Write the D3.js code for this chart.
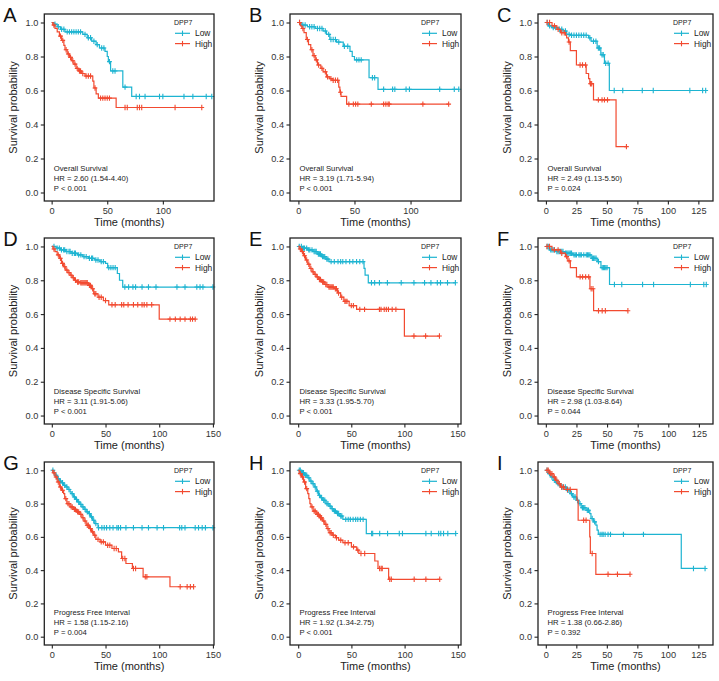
<!DOCTYPE html>
<html>
<head>
<meta charset="utf-8">
<script src="https://cdn.jsdelivr.net/npm/d3@7"></script>
<style>
body{margin:0;background:#fff;}
text{font-family:"Liberation Sans",Arial,sans-serif;}
</style>
</head>
<body>
<svg id="chart" width="719" height="681"></svg>
<script>
// groups + text for each panel
var groups = ["Low", "High"];
var colors = ["#1db4d1", "#f24a30"];
var letters = ["A","B","C","D","E","F","G","H","I"];
var endpoints = ["Overall Survival","Overall Survival","Overall Survival",
                 "Disease Specific Survival","Disease Specific Survival","Disease Specific Survival",
                 "Progress Free Interval","Progress Free Interval","Progress Free Interval"];
var hrLabels = ["HR = 2.60 (1.54-4.40)","HR = 3.19 (1.71-5.94)","HR = 2.49 (1.13-5.50)",
                "HR = 3.11 (1.91-5.06)","HR = 3.33 (1.95-5.70)","HR = 2.98 (1.03-8.64)",
                "HR = 1.58 (1.15-2.16)","HR = 1.92 (1.34-2.75)","HR = 1.38 (0.66-2.86)"];
var pLabels = ["P < 0.001","P < 0.001","P = 0.024","P < 0.001","P < 0.001","P = 0.044",
               "P = 0.004","P < 0.001","P = 0.392"];
var yTicks = [0, 0.2, 0.4, 0.6, 0.8, 1.0];
var ticks100 = [0, 50, 100];
var ticks125 = [0, 25, 50, 75, 100, 125];
var ticks150 = [0, 50, 100, 150];
var xTickSets = [ticks100, ticks100, ticks125, ticks150, ticks150, ticks125, ticks150, ticks150, ticks125];
var xMin = [-6.6, -7.5, -6.5, -7, -7.7, -6.4, -7, -7.7, -6.4];
var xMax = [146, 145, 137, 151, 153.3, 136.5, 151, 153, 137];

// step points [time, survival] and censor times
var lowA = [[2,0.99],[5,0.975],[8,0.96],[12,0.945],[28,0.93],[32,0.91],[36,0.89],[40,0.87],[43,0.85],[48,0.83],[50,0.80],[51,0.77],[53,0.715],[64,0.62],[72,0.565]];
var lowACens = [3,6,9,11,14,16,18,20,22,24,26,30,33,35,38,41,45,47,52,55,57,66,76,79,84,97,100,119,127,139,144];
var highA = [[1,0.985],[3,0.965],[5,0.945],[7,0.92],[9,0.895],[11,0.865],[12,0.84],[14,0.815],[16,0.795],[18,0.775],[20,0.755],[22,0.73],[24,0.715],[27,0.70],[30,0.685],[37,0.655],[38,0.615],[40,0.58],[42,0.555],[58,0.50]];
var highACens = [2,8,10,13,15,17,19,21,23,25,26,28,31,33,35,39,44,46,48,50,52,66,68,77,79,81,111,135];

var lowB = [[3,0.985],[8,0.975],[15,0.965],[22,0.95],[25,0.93],[28,0.90],[34,0.885],[40,0.86],[46,0.83],[48,0.80],[50,0.78],[63,0.675],[71,0.607]];
var lowBCens = [1,4,6,10,12,14,17,19,21,24,27,29,31,33,36,41,44,52,54,56,66,68,76,84,86,96,99,126,139,143];
var highB = [[2,0.98],[3,0.965],[5,0.94],[7,0.90],[9,0.87],[11,0.84],[13,0.805],[15,0.78],[17,0.75],[20,0.73],[22,0.71],[25,0.68],[28,0.67],[30,0.66],[36,0.62],[37,0.59],[38,0.565],[43,0.52]];
var highBCens = [1,4,8,12,14,16,18,21,24,26,29,31,33,35,37.5,45,49,51,53,65,76,78,80,81,111,134];

var lowC = [[2,0.98],[5,0.97],[10,0.96],[14,0.95],[17,0.93],[20,0.925],[35,0.91],[37,0.89],[42,0.85],[45,0.81],[48,0.76],[52,0.60]];
var lowCCens = [1,3,6,8,11,13,16,19,21,23,25,27,29,31,33,36,39,41,43,44,46,47,49,51,56,63,79,88,118,128.5,131];
var highC = [[5,0.98],[9,0.96],[12,0.94],[16,0.925],[17,0.91],[18.5,0.885],[20,0.835],[25,0.75],[33,0.70],[35,0.67],[36,0.64],[39,0.545],[57.5,0.27]];
var highCCens = [1,3,7,10,13,15,19,28,30,32.5,36.5,37.5,43,46,48,50.5,66];

var lowD = [[4,0.99],[8,0.98],[13,0.97],[18,0.96],[24,0.95],[29,0.94],[34,0.93],[40,0.92],[45,0.91],[50,0.90],[52,0.875],[61,0.84],[63,0.80],[66,0.76]];
var lowDCens = [2,5,7,9,11,12,14,16,17,19,21,22,25,27,30,32,35,37,38,41,43,46,48,53,55,57,59,68,71.5,75.5,78,84,90,97,116.5,124,135,138,140.7,150];
var highD = [[1,0.985],[3,0.97],[5,0.95],[7,0.93],[9,0.90],[11,0.88],[13,0.86],[15,0.845],[17,0.83],[19,0.815],[21,0.80],[23,0.79],[26,0.785],[34,0.77],[37,0.75],[39,0.72],[43,0.70],[48,0.68],[53,0.655],[100,0.57]];
var highDCens = [2,6,8,10,12,14,16,18,20,22,24,25,27,28,29,30,31,32,33,35,36,38,40,41,44,46,50,56,59,65,67,71,76,80,84,86,88.5,93,110,115,119.5,124,129,131,133.5];

var lowE = [[4,0.99],[9,0.98],[14,0.97],[18,0.955],[22,0.94],[26,0.925],[29,0.91],[62,0.87],[63,0.83],[66,0.785]];
var lowECens = [1,3,5,6,8,10,11,13,15,16,17,19,20,21,23,24,25,27,28,31,34,37.5,40,42,45,48.5,51.5,55,58,61,69,72,76.5,84,97,109,119,125,131,134,140.6,148];
var highE = [[1,0.985],[3,0.97],[5,0.945],[7,0.92],[9,0.895],[11,0.87],[13,0.85],[15,0.835],[17,0.82],[19,0.805],[22,0.79],[25,0.775],[28,0.76],[34,0.75],[37,0.725],[40,0.70],[43,0.675],[48,0.65],[55,0.628],[100,0.47]];
var highECens = [2,4,6,8,10,12,14,16,18,20,21,23,24,26,27,29,30,31,32,33,35,36,38,41,44,45,46,50,52,58,62.5,76.5,78,81,83,85,88.5,92,109,120,133];

var lowF = [[3,0.98],[8,0.97],[15,0.96],[22,0.95],[37,0.93],[42,0.91],[45,0.875],[52,0.775]];
var lowFCens = [1,2,4,5,6,7,9,10,11,12,13,14,16,17,18,19,20,21,23,24,25,27,28,29,31,33,34,35,36,38,39,40,41,43,46,47,48,49,50,56,62,79,88,118,129,131];
var highF = [[5,0.98],[12,0.96],[16,0.94],[18,0.915],[20,0.875],[25,0.82],[36,0.75],[39,0.62]];
var highFCens = [1,3,7,10,13,17,19,28,30,32.5,35,37,38.5,43,46,48.6,67];

var lowG = [[2,0.98],[3,0.97],[5,0.95],[7,0.935],[9,0.925],[11,0.91],[13,0.90],[15,0.885],[17,0.87],[18,0.86],[20,0.84],[22,0.825],[24,0.81],[26,0.795],[28,0.78],[30,0.765],[32,0.75],[34,0.74],[36,0.72],[38,0.70],[40,0.68],[43,0.655]];
var lowGCens = [1,4,6,8,10,12,14,16,19,21,23,25,27,29,31,33,35,37,39,41,43.5,46.6,48.8,51,54,57,60.6,62,64,69,76,84,90,98,104,119,121,124,133.5,136.6,140,143,150];
var highG = [[1,0.985],[3,0.96],[5,0.93],[7,0.90],[9,0.88],[11,0.86],[12,0.83],[14,0.80],[17,0.78],[20,0.765],[23,0.75],[26,0.735],[28,0.715],[30,0.695],[32,0.67],[35,0.65],[37,0.63],[39,0.61],[41,0.585],[45,0.57],[50,0.55],[56,0.53],[62,0.51],[65,0.47],[69,0.44],[75,0.41],[85,0.36],[110,0.30]];
var highGCens = [2,4,6,8,10,13,15,16,18,19,21,22,24,25,27,29,31,33,34,36,38,40,43,46,48,52,54,58,60,66,68,76,78,87,88.5,119.5,126,129,132];

var lowH = [[3,0.985],[6,0.97],[9,0.955],[11,0.935],[13,0.92],[15,0.90],[17,0.875],[19,0.85],[21,0.835],[23,0.82],[26,0.80],[29,0.785],[31,0.77],[33,0.755],[36,0.74],[39,0.725],[42,0.705],[64,0.62]];
var lowHCens = [1,2,4,5,7,8,10,12,14,16,18,20,22,24,25,27,28,30,32,34,35,37,38,40,41,44.7,47,49,51.6,54,56,58.4,61,69,70,76.6,84,95,98,120,125,132,134,136.6,140.6,148];
var highH = [[1,0.98],[3,0.96],[5,0.93],[7,0.89],[9,0.86],[10,0.83],[11,0.80],[12,0.78],[14,0.755],[17,0.735],[20,0.715],[23,0.695],[25,0.675],[27,0.65],[29,0.625],[32,0.61],[35,0.595],[38,0.58],[42,0.565],[50,0.54],[55,0.52],[57,0.50],[72,0.455],[75,0.41],[85,0.345]];
var highHCens = [2,4,6,8,13,15,16,18,19,21,22,24,26,28,30,31,33,36,40,44,47,52,56,59,62.5,76.5,78,79,86,87.5,109,120,133];

var lowI = [[2,0.98],[4,0.96],[6,0.94],[9,0.92],[12,0.90],[17,0.88],[20,0.86],[22,0.84],[25,0.82],[27,0.80],[29,0.775],[33,0.76],[36,0.74],[37,0.71],[39,0.69],[41,0.67],[42,0.64],[43,0.615],[111,0.41]];
var lowICens = [1,3,5,7,8,10,11,13,14,16,18,19,21,23,24,26,28,30,31,32,34,35,38,40,44.5,46,47,48.6,51,53,63.6,80,121,130.5];
var highI = [[3,0.98],[6,0.96],[8,0.94],[10,0.92],[12,0.90],[15,0.885],[25.5,0.82],[26.5,0.70],[36,0.60],[36.5,0.50],[41,0.375]];
var highICens = [1,2,4,5,7,9,11,13,14.5,17.7,20,31,33,38,51,58.7,69];

var lowSteps = [lowA, lowB, lowC, lowD, lowE, lowF, lowG, lowH, lowI];
var lowCens = [lowACens, lowBCens, lowCCens, lowDCens, lowECens, lowFCens, lowGCens, lowHCens, lowICens];
var highSteps = [highA, highB, highC, highD, highE, highF, highG, highH, highI];
var highCens = [highACens, highBCens, highCCens, highDCens, highECens, highFCens, highGCens, highHCens, highICens];

// grid of plot boxes
var colLeft = [44.3, 290, 538];
var colRight = [214, 461, 713];
var rowTop = [14, 238, 462];
var rowBottom = [201, 424, 645];

var svg = d3.select("#chart");
svg.append("rect").attr("width", 719).attr("height", 681).attr("fill", "#fff");

function survAt(steps, t){
    var s = 1;
    steps.forEach(function(d){ if(d[0] <= t) s = d[1]; });
    return s;
}

function drawPanel(i){
    var c = i % 3, r = Math.floor(i / 3);
    var L = colLeft[c], R = colRight[c], T = rowTop[r], B = rowBottom[r];
    var x = d3.scaleLinear().domain([xMin[i], xMax[i]]).range([L, R]);
    var y = d3.scaleLinear().domain([-0.05, 1.05]).range([B, T]);
    var g = svg.append("g");

    //letter
    g.append("text").attr("x", L - 41).attr("y", T + 8)
        .attr("font-size", 20).attr("fill", "#111").text(letters[i]);

    //axes
    var ya = g.append("g").attr("transform", "translate(" + L + ",0)")
        .call(d3.axisLeft(y).tickValues(yTicks).tickSize(3.5).tickPadding(2.5).tickFormat(d3.format(".1f")));
    var xa = g.append("g").attr("transform", "translate(0," + B + ")")
        .call(d3.axisBottom(x).tickValues(xTickSets[i]).tickSize(3.5).tickPadding(2.5));
    [ya, xa].forEach(function(a){
        a.select(".domain").remove();
        a.selectAll("line").attr("stroke", "#222").attr("stroke-width", 1.1);
        a.selectAll("text").attr("font-size", 9.2).attr("fill", "#333")
            .style("font-family", "Liberation Sans, Arial, sans-serif");
    });

    g.append("text").attr("transform", "translate(" + (L - 27) + "," + ((T + B) / 2) + ") rotate(-90)")
        .attr("text-anchor", "middle").attr("font-size", 11).attr("fill", "#222").text("Survival probability");
    g.append("text").attr("x", (L + R) / 2).attr("y", B + 24.5)
        .attr("text-anchor", "middle").attr("font-size", 11).attr("fill", "#222").text("Time (months)");

    //curves
    var line = d3.line().x(function(d){ return x(d[0]); }).y(function(d){ return y(d[1]); });
    [lowSteps[i], highSteps[i]].forEach(function(steps, k){
        var cens = k == 0 ? lowCens[i] : highCens[i];
        var pts = [[0, 1]], prev = 1;
        steps.forEach(function(d){
            pts.push([d[0], prev]);
            pts.push([d[0], d[1]]);
            prev = d[1];
        });
        var end = Math.max(d3.max(cens), steps[steps.length - 1][0]);
        pts.push([end, prev]);
        g.append("path").attr("d", line(pts)).attr("fill", "none")
            .attr("stroke", colors[k]).attr("stroke-width", 1.2);
        g.selectAll(null).data(cens).enter().append("path")
            .attr("d", function(t){
                var cx = x(t), cy = y(survAt(steps, t));
                return "M" + (cx - 2.4) + "," + cy + "H" + (cx + 2.4) + "M" + cx + "," + (cy - 2.7) + "V" + (cy + 2.7);
            })
            .attr("stroke", colors[k]).attr("stroke-width", 1.1);
    });

    //border
    g.append("rect").attr("x", L).attr("y", T).attr("width", R - L).attr("height", B - T)
        .attr("fill", "none").attr("stroke", "#222").attr("stroke-width", 1.3);

    //legend
    g.append("text").attr("x", R - 40).attr("y", T + 11).attr("font-size", 7).attr("fill", "#222").text("DPP7");
    groups.forEach(function(name, k){
        var ly = T + 19.3 + k * 10.3;
        g.append("line").attr("x1", R - 39).attr("x2", R - 24).attr("y1", ly).attr("y2", ly)
            .attr("stroke", colors[k]).attr("stroke-width", 1.2);
        g.append("line").attr("x1", R - 31.5).attr("x2", R - 31.5).attr("y1", ly - 2.7).attr("y2", ly + 2.7)
            .attr("stroke", colors[k]).attr("stroke-width", 1.1);
        g.append("text").attr("x", R - 19).attr("y", ly + 2.9).attr("font-size", 8.4).attr("fill", "#222").text(name);
    });

    //annotation
    [endpoints[i], hrLabels[i], pLabels[i]].forEach(function(s, k){
        g.append("text").attr("x", L + 9.5).attr("y", B - 30 + k * 10)
            .attr("font-size", 7.7).attr("fill", "#222").text(s);
    });
}

for (var i = 0; i < 9; i++) drawPanel(i);
</script>
</body>
</html>
